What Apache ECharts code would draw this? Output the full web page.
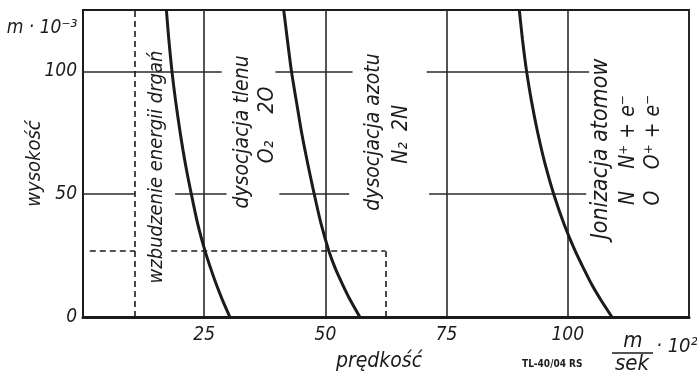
<!DOCTYPE html>
<html>
<head>
<meta charset="utf-8">
<script src="https://cdn.jsdelivr.net/npm/echarts@6/dist/echarts.min.js"></script>
<style>
html,body{margin:0;padding:0;background:#fff;}
#chart{width:697px;height:376px;}
</style>
</head>
<body>
<div id="chart"></div>
<script>
// ---- data ----
const xTickLabels = [25, 50, 75, 100];
const yTickLabels = [0, 50, 100];
const curveHeights = [0, 7, 13, 20, 27, 38, 50, 62, 75, 88, 100, 113, 125];
const vibrationX = [30.3, 28.75, 27.55, 26.3, 25.15, 23.65, 22.35, 21.15, 20.05, 19.1, 18.35, 17.7, 17.2];
const oxygenX = [57.1, 55.1, 53.6, 52.0, 50.7, 49.1, 47.7, 46.4, 45.1, 44.0, 43.0, 42.15, 41.4];
const ionizationX = [109.1, 106.8, 105.0, 103.2, 101.5, 99.2, 97.1, 95.35, 93.8, 92.5, 91.5, 90.65, 90.0];
const level100Segments = [[0, 28.6], [39.7, 55.6], [70.9, 104.4]];
const level50Segments = [[0, 10.7], [19, 29.6], [40.5, 54.9], [71.4, 103.8]];
const dashedVerticalX = 10.7;
const dashedLevel = 26.8;
const dashedLevelSegments = [[1.4, 10.7], [18.2, 62.4]];
const dashedDropX = 62.4;

const FONT = "'Liberation Sans Narrow', 'DejaVu Sans Condensed', 'Roboto Condensed', Roboto, sans-serif";
const INK = '#1b1b1b';

function pairs(xs, ys) { return xs.map((x, i) => [x, ys[i]]); }
function hSegs(segs, y) { return segs.map(s => ({ coords: [[s[0], y], [s[1], y]] })); }

const chart = echarts.init(document.getElementById('chart'));
const curveStyle = { color: INK, width: 3 };

function rotText(text, x, y, size) {
  return {
    type: 'text', x: x, y: y, rotation: Math.PI / 2,
    style: { text: text, fill: INK, font: 'italic ' + size + 'px ' + FONT, textAlign: 'center', textVerticalAlign: 'middle' }
  };
}
function plainText(text, x, y, size, align, weight) {
  return {
    type: 'text', x: x, y: y,
    style: { text: text, fill: INK, font: (weight || 'italic') + ' ' + size + 'px ' + FONT, textAlign: align || 'center', textVerticalAlign: 'middle' }
  };
}

chart.setOption({
  animation: false,
  backgroundColor: '#fff',
  grid: { left: 83, right: 8, top: 10, bottom: 59, show: true, borderColor: INK, borderWidth: 2 },
  xAxis: {
    type: 'value', min: 0, max: 125, interval: 25,
    axisLine: { show: true, lineStyle: { color: INK, width: 3 } },
    axisTick: { show: false },
    splitLine: { show: true, lineStyle: { color: '#2a2a2a', width: 1.6 } },
    axisLabel: {
      margin: 9, color: INK, fontFamily: FONT, fontStyle: 'italic', fontSize: 19,
      formatter: v => xTickLabels.includes(v) ? String(v) : ''
    }
  },
  yAxis: {
    type: 'value', min: 0, max: 125, interval: 25,
    axisLine: { show: true, lineStyle: { color: INK, width: 2 } },
    axisTick: { show: false },
    splitLine: { show: false },
    axisLabel: {
      margin: 6, color: INK, fontFamily: FONT, fontStyle: 'italic', fontSize: 19,
      formatter: v => yTickLabels.includes(v) ? String(v) : ''
    },
    name: 'wysokość', nameLocation: 'middle', nameRotate: 90, nameGap: 38, nameMoveOverlap: false,
    nameTextStyle: { color: INK, fontFamily: FONT, fontStyle: 'italic', fontSize: 20 }
  },
  series: [
    { type: 'line', data: pairs(vibrationX, curveHeights), smooth: 0.25, showSymbol: false, lineStyle: curveStyle, z: 5 },
    { type: 'line', data: pairs(oxygenX, curveHeights), smooth: 0.25, showSymbol: false, lineStyle: curveStyle, z: 5 },
    { type: 'line', data: pairs(ionizationX, curveHeights), smooth: 0.25, showSymbol: false, lineStyle: curveStyle, z: 5 },
    {
      type: 'lines', coordinateSystem: 'cartesian2d', polyline: false, silent: true,
      lineStyle: { color: '#2a2a2a', width: 1.6, opacity: 1 },
      data: hSegs(level100Segments, 100).concat(hSegs(level50Segments, 50))
    },
    {
      type: 'lines', coordinateSystem: 'cartesian2d', polyline: false, silent: true,
      lineStyle: { color: INK, width: 1.6, type: [6, 4], opacity: 1 },
      data: hSegs(dashedLevelSegments, dashedLevel).concat([
        { coords: [[dashedVerticalX, 0], [dashedVerticalX, 125]] },
        { coords: [[dashedDropX, 0], [dashedDropX, dashedLevel]] }
      ])
    }
  ],
  graphic: [
    plainText('m · 10⁻³', 42, 28, 19),
    plainText('prędkość', 379, 362, 21),
    rotText('wzbudzenie energii drgań', 157, 167, 20),
    rotText('dysocjacja tlenu', 243, 132, 21),
    rotText('O₂', 268, 152, 21),
    rotText('2O', 268, 100, 21),
    rotText('dysocjacja azotu', 374, 132, 21),
    rotText('N₂', 402, 153, 21),
    rotText('2N', 402, 118, 21),
    rotText('Jonizacja atomow', 601, 149, 23),
    rotText('N', 629, 198, 21),
    rotText('N⁺ + e⁻', 629, 132, 21),
    rotText('O', 654, 198, 21),
    rotText('O⁺ + e⁻', 654, 132, 21),
    plainText('m', 633, 341, 22),
    { type: 'line', shape: { x1: 612, y1: 353, x2: 653, y2: 353 }, style: { stroke: INK, lineWidth: 1.5 } },
    plainText('sek', 632, 364, 22),
    plainText('· 10²', 677, 347, 20),
    plainText('TL-40/04 RS', 522, 364, 10, 'left', 'bold')
  ]
});
</script>
</body>
</html>
